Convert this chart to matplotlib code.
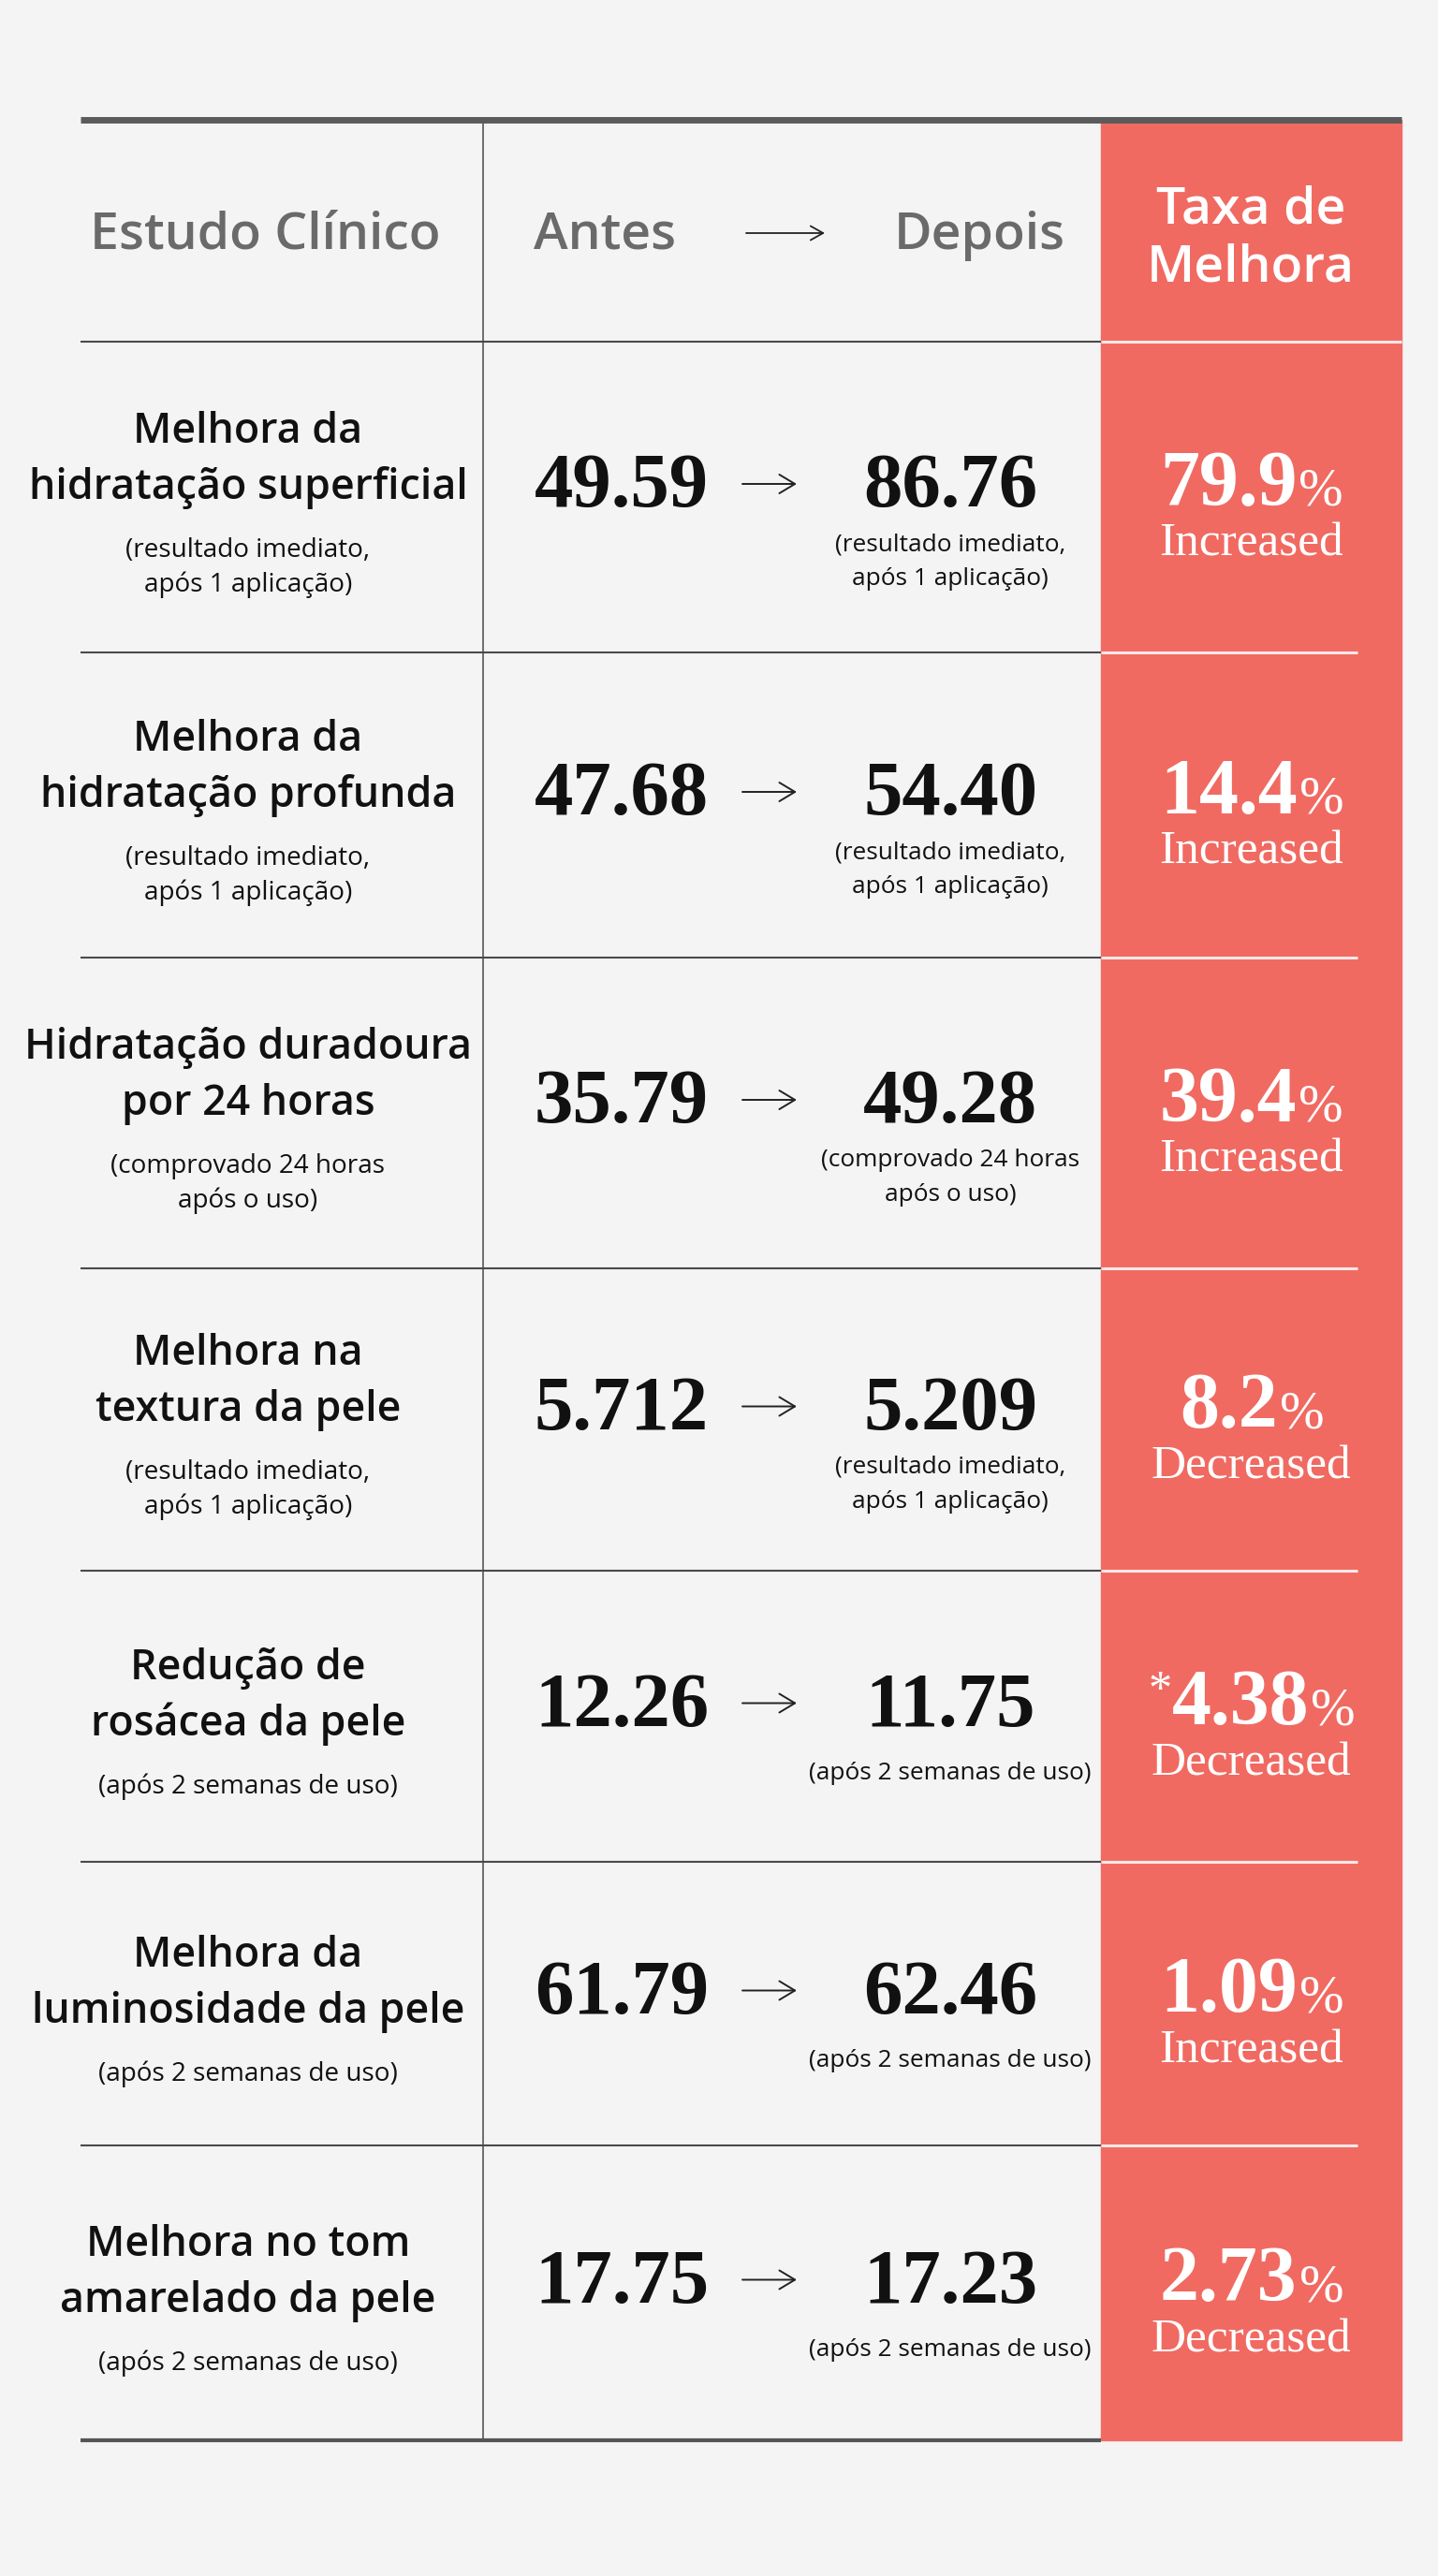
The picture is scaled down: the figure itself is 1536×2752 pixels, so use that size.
import matplotlib
matplotlib.use('Agg')
import matplotlib.pyplot as plt

# dados da tabela
cabecalho = ['Estudo Clínico', 'Antes', 'Depois', 'Taxa de', 'Melhora']
estudos = [
    ['Melhora da', 'hidratação superficial'],
    ['Melhora da', 'hidratação profunda'],
    ['Hidratação duradoura', 'por 24 horas'],
    ['Melhora na', 'textura da pele'],
    ['Redução de', 'rosácea da pele'],
    ['Melhora da', 'luminosidade da pele'],
    ['Melhora no tom', 'amarelado da pele'],
]
estudo_notas = [
    ['(resultado imediato,', 'após 1 aplicação)'],
    ['(resultado imediato,', 'após 1 aplicação)'],
    ['(comprovado 24 horas', 'após o uso)'],
    ['(resultado imediato,', 'após 1 aplicação)'],
    ['(após 2 semanas de uso)'],
    ['(após 2 semanas de uso)'],
    ['(após 2 semanas de uso)'],
]
antes = ['49.59', '47.68', '35.79', '5.712', '12.26', '61.79', '17.75']
depois = ['86.76', '54.40', '49.28', '5.209', '11.75', '62.46', '17.23']
depois_notas = estudo_notas
taxa = ['79.9', '14.4', '39.4', '8.2', '4.38', '1.09', '2.73']
taxa_marca = ['', '', '', '', '*', '', '']
direcao = ['Increased', 'Increased', 'Increased', 'Decreased',
           'Decreased', 'Increased', 'Decreased']

# layout (pixels)
W, H = 1536, 2752
x_esq, x_div, x_verm, x_dir = 86, 516, 1176, 1497
x_branco = 1450
y_topo = 128
linhas_y = [365, 697, 1023, 1355, 1678, 1989, 2292, 2607]
x_lab, x_antes, x_seta, x_depois, x_taxa = 265, 664, 822, 1015, 1336

fundo = '#f4f4f4'
vermelho = '#f06a62'
cinza = '#6a6a6a'
preto = '#111111'

SANS = ['Open Sans', 'DejaVu Sans']
SERIF = ['Liberation Serif', 'DejaVu Serif']

fig = plt.figure(figsize=(W / 100, H / 100), dpi=100, facecolor=fundo)
ax = fig.add_axes([0, 0, 1, 1])
ax.set_xlim(0, W)
ax.set_ylim(H, 0)
ax.axis('off')
renderer = fig.canvas.get_renderer()


def largura(s, size, **kw):
    t = ax.text(0, 0, s, fontsize=size, **kw)
    w = t.get_window_extent(renderer).width
    t.remove()
    return w


def ajusta(s, alvo, **kw):
    return 50 * alvo / largura(s, 50, **kw)


def em(size):
    return size * 100 / 72


def seta(xc, y, meia, lw, cab):
    ax.annotate('', xy=(xc + meia, y), xytext=(xc - meia, y),
                arrowprops=dict(arrowstyle='->,head_length=%.2f,head_width=%.2f' % cab,
                                lw=lw, color='#222222', shrinkA=0, shrinkB=0,
                                mutation_scale=12))


sz_head = ajusta('Estudo Clínico', 376, family=SANS, fontweight='semibold')
sz_lab = ajusta('hidratação superficial', 470, family=SANS, fontweight='semibold')
sz_sub = ajusta('(após 2 semanas de uso)', 311, family=SANS) * 1.03
sz_sub2 = ajusta('(após 2 semanas de uso)', 302, family=SANS)
sz_num = ajusta('49.59', 186, family=SERIF, fontweight='bold')
sz_pct = ajusta('79.9', 147, family=SERIF, fontweight='bold')
sz_dir = ajusta('Increased', 197, family=SERIF)


def texto(x, yc, s, size, family, fator=0.36, **kw):
    # yc = centro visual; converte para linha de base
    ax.text(x, yc + fator * em(size), s, fontsize=size, family=family,
            ha='center', va='baseline', **kw)


# coluna vermelha
ax.add_patch(plt.Rectangle((x_verm, y_topo), x_dir - x_verm,
                           linhas_y[-1] - y_topo, color=vermelho, zorder=1))

# linhas
ax.hlines(y_topo, x_esq, x_dir, color='#5b5b5b', lw=5, zorder=3)
ax.vlines(x_div, y_topo, linhas_y[-1], color='#4a4a4a', lw=1.1, zorder=2)
for i, y in enumerate(linhas_y):
    if i == len(linhas_y) - 1:
        ax.hlines(y, x_esq, x_verm, color='#555555', lw=3, zorder=2)
    else:
        ax.hlines(y, x_esq, x_verm, color='#4a4a4a', lw=1.5, zorder=2)
        fim = x_dir if i == 0 else x_branco
        ax.hlines(y, x_verm, fim, color='white', lw=2.2, alpha=0.85, zorder=2)

# cabecalho
yh = 246
texto(283, yh, cabecalho[0], sz_head, SANS, color=cinza, fontweight='semibold')
texto(646, yh, cabecalho[1], sz_head, SANS, color=cinza, fontweight='semibold')
texto(1046, yh, cabecalho[2], sz_head, SANS, color=cinza, fontweight='semibold')
seta(839, 249, 42, 1.3, (0.8, 0.45))
texto(x_taxa, 219, cabecalho[3], sz_head, SANS, color='white', fontweight='semibold')
texto(x_taxa, 281, cabecalho[4], sz_head, SANS, color='white', fontweight='semibold')

# linhas da tabela
for i in range(len(estudos)):
    yc = (linhas_y[i] + linhas_y[i + 1]) / 2

    # estudo + nota
    pos = [0, 60]
    for k in range(len(estudo_notas[i])):
        pos.append(pos[-1] + (68 if k == 0 else 37))
    meio = (pos[0] + pos[-1]) / 2
    for k, s in enumerate(estudos[i]):
        texto(x_lab, yc + 8 - meio + pos[k], s, sz_lab, SANS,
              color=preto, fontweight='semibold')
    for k, s in enumerate(estudo_notas[i]):
        texto(x_lab, yc + 8 - meio + pos[2 + k], s, sz_sub, SANS, color=preto)

    # antes -> depois
    texto(x_antes, yc - 18, antes[i], sz_num, SERIF, fator=0.34,
          color=preto, fontweight='bold')
    seta(x_seta, yc - 14, 29, 1.4, (1.0, 0.6))
    texto(x_depois, yc - 18, depois[i], sz_num, SERIF, fator=0.34,
          color=preto, fontweight='bold')
    y0 = yc + (48 if len(depois_notas[i]) == 2 else 58)
    for k, s in enumerate(depois_notas[i]):
        texto(x_depois, y0 + 37 * k, s, sz_sub2, SANS, color=preto)

    # taxa de melhora
    sz_pc = sz_pct * 0.68
    sz_mk = sz_pct * 0.6
    w_mk = largura(taxa_marca[i], sz_mk, family=SERIF) if taxa_marca[i] else 0
    w_num = largura(taxa[i], sz_pct, family=SERIF, fontweight='bold')
    w_pc = largura('%', sz_pc, family=SERIF)
    x0 = x_taxa - (w_mk + w_num + w_pc) / 2
    base = yc - 20 + 0.34 * em(sz_pct)
    if taxa_marca[i]:
        ax.text(x0, base - 0.676 * (em(sz_pct) - em(sz_mk)), taxa_marca[i],
                fontsize=sz_mk, family=SERIF, color='white',
                ha='left', va='baseline')
    ax.text(x0 + w_mk, base, taxa[i], fontsize=sz_pct, family=SERIF,
            fontweight='bold', color='white', ha='left', va='baseline')
    ax.text(x0 + w_mk + w_num + 2, base, '%', fontsize=sz_pc, family=SERIF,
            color='white', ha='left', va='baseline')
    texto(x_taxa, yc + 46, direcao[i], sz_dir, SERIF, fator=0.33, color='white')

fig.savefig('out.png', dpi=100, facecolor=fundo)
